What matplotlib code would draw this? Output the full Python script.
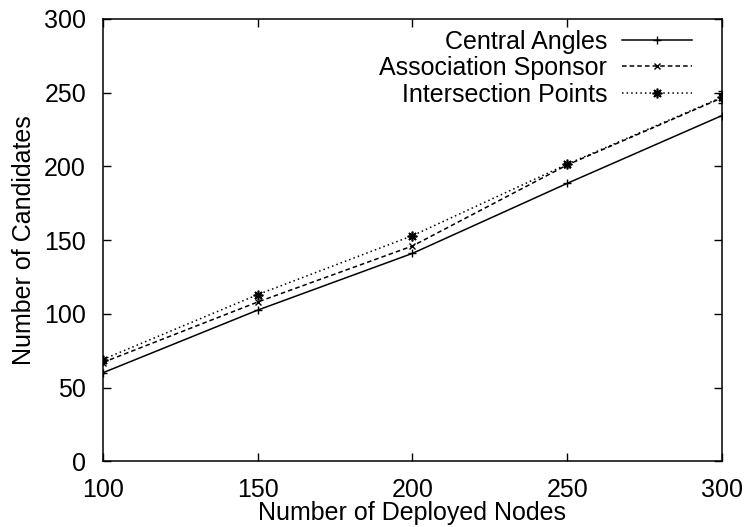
import matplotlib
matplotlib.use("Agg")
import matplotlib.pyplot as plt

# number of candidate nodes vs. deployed nodes, three selection schemes
nodes = [100, 150, 200, 250, 300]
central_angles = [60, 102.5, 141, 188.5, 234.5]
association_sponsor = [67, 108, 146, 201, 246.5]
intersection_points = [69, 113, 153, 201.5, 247]
intersection_err = [0, 0, 0, 0, 4]

plt.rcParams["font.family"] = ["Liberation Sans", "DejaVu Sans"]
FS = 18

fig = plt.figure(figsize=(7.5, 5.27), dpi=100)
ax = fig.add_axes([0.137, 0.1247, 0.8257, 0.8393])

ax.plot(nodes, central_angles, color="black", lw=1.1, ls="-",
        marker="+", ms=6, mew=1, label="Central Angles")
ax.plot(nodes, association_sponsor, color="black", lw=1.1, ls=(0, (3, 2)),
        marker="x", ms=5, mew=1, label="Association Sponsor")
ax.plot(nodes, intersection_points, color="black", lw=1.1, ls=(0, (1, 2)),
        marker=(8, 2, 0), ms=7, mew=1.2, label="Intersection Points")
ax.errorbar(nodes, intersection_points, yerr=intersection_err, fmt="none",
            ecolor="black", elinewidth=1, capsize=3)

ax.set_xlim(100, 300)
ax.set_ylim(0, 300)
ax.set_xticks(nodes)
ax.set_yticks(range(0, 301, 50))
ax.tick_params(direction="in", length=6, width=1, labelsize=FS, pad=12,
               top=True, right=True)
for s in ax.spines.values():
    s.set_linewidth(1.1)

ax.set_xlabel("Number of Deployed Nodes", fontsize=FS, labelpad=-1)
ax.set_ylabel("Number of Candidates", fontsize=FS, labelpad=6)

ax.legend(loc="upper right", bbox_to_anchor=(0.952, 0.976), frameon=False,
          fontsize=FS, markerfirst=False, handlelength=2.8,
          handletextpad=0.6, labelspacing=0.1, borderaxespad=0,
          borderpad=0)

fig.savefig("out.png", dpi=100)
